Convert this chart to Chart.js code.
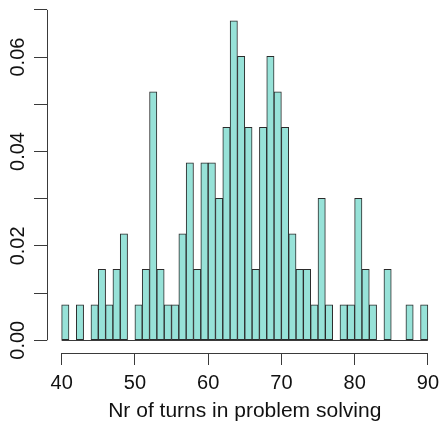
<!DOCTYPE html>
<html>
<head>
<meta charset="utf-8">
<script src="https://cdn.jsdelivr.net/npm/chart.js@4/dist/chart.umd.min.js"></script>
<style>
  html, body { margin: 0; padding: 0; background: #fff; }
  #wrap { width: 445px; height: 426px; }
</style>
</head>
<body>
<div id="wrap"><canvas id="c" width="445" height="426"></canvas></div>
<script>
// Histogram of turns per problem-solving session, one-unit bins from 40 to 90
const binStarts = [40,41,42,43,44,45,46,47,48,49,50,51,52,53,54,55,56,57,58,59,
                   60,61,62,63,64,65,66,67,68,69,70,71,72,73,74,75,76,77,78,79,
                   80,81,82,83,84,85,86,87,88,89];
const counts    = [1,0,1,0,1,2,1,2,3,0,1,2,7,2,1,1,3,5,2,5,
                   5,4,6,9,8,6,2,6,8,7,6,3,2,2,1,4,1,0,1,1,
                   4,2,1,0,2,0,0,1,0,1];
const xTicks = [40, 50, 60, 70, 80, 90];
const yTicks = [0, 0.01, 0.02, 0.03, 0.04, 0.05, 0.06, 0.07];
const yLabelled = [0, 0.02, 0.04, 0.06];
const xTitle = 'Nr of turns in problem solving';

const total = counts.reduce((a, b) => a + b, 0);
const points = binStarts.map((s, i) => ({ x: s + 0.5, y: counts[i] / total }));

const FONT = { family: '"Liberation Sans", Arial, sans-serif', size: 20 };
const TITLE_FONT = { family: '"Liberation Sans", Arial, sans-serif', size: 21 };
const AXIS = '#3a3a3a';

// Base-graphics style axis lines: they span only the first to last tick
const axisLines = {
  id: 'axisLines',
  afterDraw(chart) {
    const { ctx, chartArea, scales: { x, y } } = chart;
    ctx.save();
    ctx.strokeStyle = AXIS;
    ctx.lineWidth = 1;
    ctx.beginPath();
    ctx.moveTo(x.getPixelForValue(xTicks[0]), chartArea.bottom + 0.5);
    ctx.lineTo(x.getPixelForValue(xTicks[xTicks.length - 1]), chartArea.bottom + 0.5);
    ctx.moveTo(chartArea.left + 0.5, y.getPixelForValue(yTicks[0]));
    ctx.lineTo(chartArea.left + 0.5, y.getPixelForValue(yTicks[yTicks.length - 1]));
    // zero line under the empty bins
    const y0 = Math.round(y.getPixelForValue(0)) + 0.5;
    ctx.moveTo(x.getPixelForValue(binStarts[0]), y0);
    ctx.lineTo(x.getPixelForValue(binStarts[binStarts.length - 1] + 1), y0);
    ctx.stroke();
    ctx.restore();
  }
};

new Chart(document.getElementById('c'), {
  type: 'bar',
  data: {
    datasets: [{
      data: points,
      backgroundColor: '#97e2d8',
      borderColor: '#2b2b2b',
      borderWidth: 1,
      barPercentage: 1,
      categoryPercentage: 1,
      borderSkipped: false
    }]
  },
  options: {
    responsive: false,
    animation: false,
    events: [],
    layout: { padding: { top: 5, right: 0, left: 0, bottom: 0 } },
    plugins: { legend: { display: false }, tooltip: { enabled: false } },
    scales: {
      x: {
        type: 'linear',
        min: 38,
        max: 92,
        offset: false,
        afterBuildTicks(scale) { scale.ticks = xTicks.map(v => ({ value: v })); },
        afterFit(scale) { scale.height = 73; },
        grid: { offset: false, drawOnChartArea: false, drawTicks: true, tickLength: 12, color: AXIS, lineWidth: 1 },
        border: { display: false },
        ticks: { font: FONT, color: '#111', padding: 6, maxRotation: 0 },
        title: { display: true, text: xTitle, font: TITLE_FONT, color: '#111', padding: { top: 0, bottom: 2 } }
      },
      y: {
        type: 'linear',
        min: -0.0027,
        max: 0.0704,
        afterBuildTicks(scale) { scale.ticks = yTicks.map(v => ({ value: v })); },
        afterFit(scale) { scale.width = 47; },
        grid: { drawOnChartArea: false, drawTicks: true, tickLength: 13, color: AXIS, lineWidth: 1 },
        border: { display: false },
        ticks: {
          font: FONT,
          color: '#111',
          minRotation: 90,
          maxRotation: 90,
          crossAlign: 'center',
          padding: -4,
          callback(v) {
            return yLabelled.some(t => Math.abs(t - v) < 1e-9) ? v.toFixed(2) : '';
          }
        }
      }
    }
  },
  plugins: [axisLines]
});
</script>
</body>
</html>
